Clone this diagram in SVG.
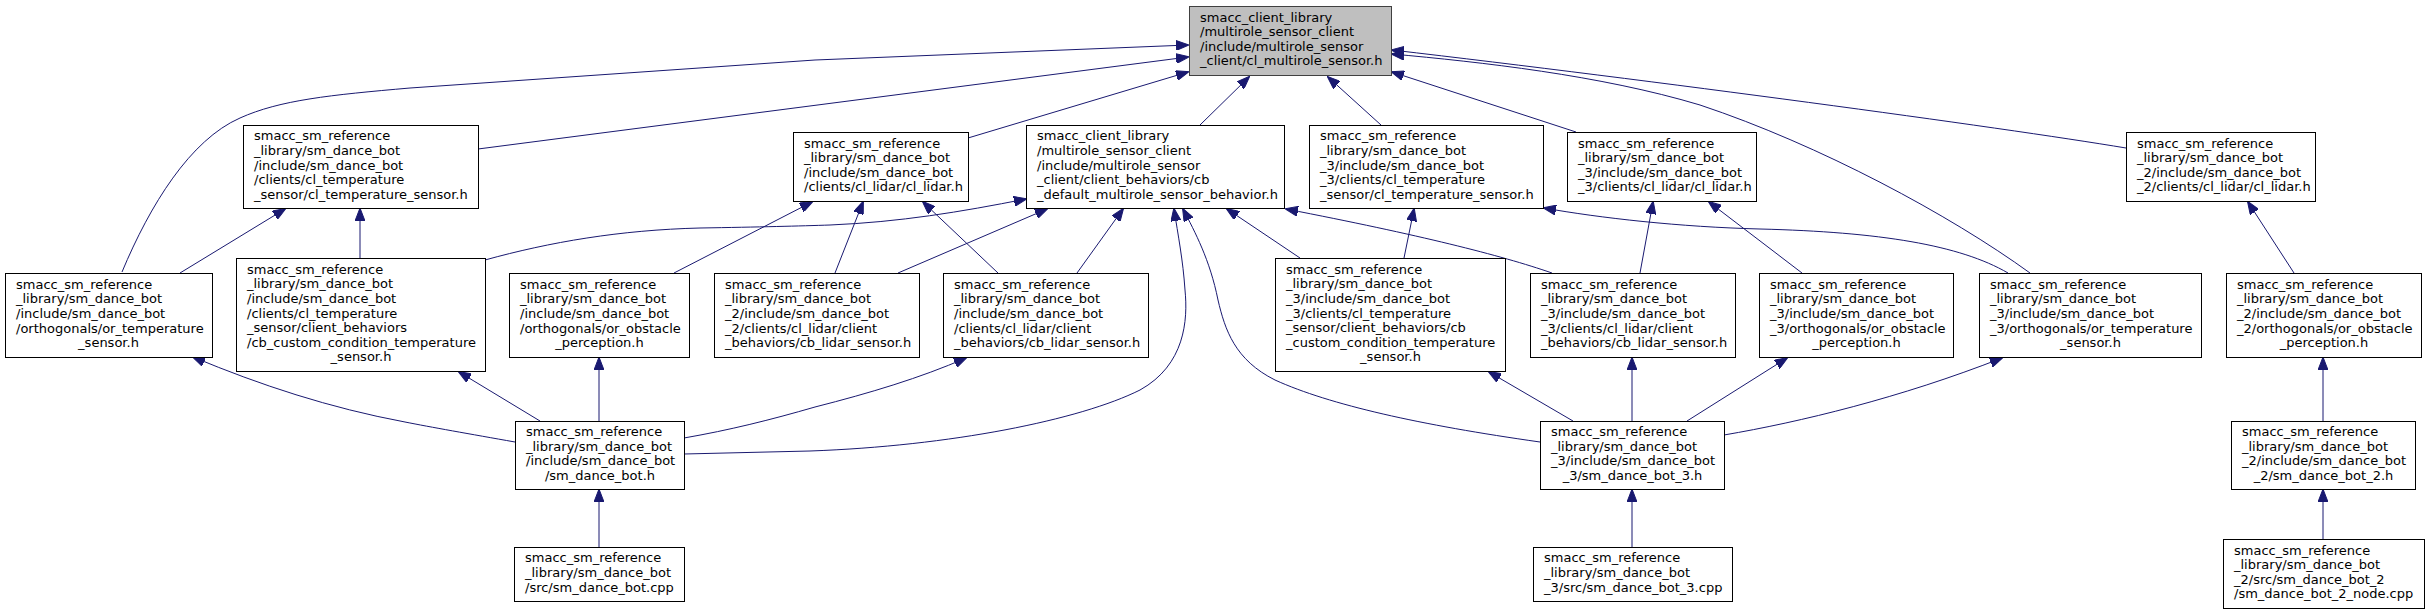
<svg xmlns="http://www.w3.org/2000/svg" width="2429" height="615" viewBox="0 0 2429 615">
<style>
.n rect{fill:#ffffff;stroke:#000000;stroke-width:1}
.n.g rect{stroke:#666666}
.n.root rect{fill:#bfbfbf;stroke:#404040}
text{font-family:"DejaVu Sans","Liberation Sans",sans-serif;font-size:13px;fill:#000000}
.c{text-anchor:middle}
#edges path{fill:none;stroke:#191970;stroke-width:1;marker-end:url(#ah)}
</style>
<defs>
<marker id="ah" markerUnits="userSpaceOnUse" viewBox="0 0 13 10" refX="12" refY="5" markerWidth="13" markerHeight="10" orient="auto">
<path d="M0,0 L13,5 L0,10 z" fill="#191970" stroke="#191970" stroke-width="1"/>
</marker>
</defs>
<rect width="2429" height="615" fill="#ffffff"/>
<g id="edges">
<path d="M122,272 C150,205 190,140 240,118 C280,100 330,95 410,88 L815,60 L1188,45"/>
<path d="M478,149 L1188,57"/>
<path d="M968,138 L1188,72"/>
<path d="M1200,125 L1249,77"/>
<path d="M1381,125 L1328,77"/>
<path d="M1576,132 L1392,72"/>
<path d="M2126,148 C2000,127 1650,80 1392,50"/>
<path d="M2030,273 C1950,215 1820,145 1700,105 C1600,75 1480,62 1392,54"/>
<path d="M180,273 L285,209"/>
<path d="M360,258 L360,209"/>
<path d="M674,273 L812,202"/>
<path d="M835,273 L863,202"/>
<path d="M998,273 L923,202"/>
<path d="M485,260 C550,242 620,230 700,228 C760,227 800,226 830,225 C900,222 960,212 1026,199"/>
<path d="M898,273 L1047,209"/>
<path d="M1077,273 L1123,209"/>
<path d="M684,454 L810,451 C950,446 1080,420 1140,390 C1185,365 1188,320 1185,290 C1183,260 1178,235 1174,209"/>
<path d="M1540,442 C1420,425 1330,405 1275,380 C1235,360 1225,330 1218,300 C1210,260 1195,232 1183,209"/>
<path d="M1300,258 L1227,209"/>
<path d="M1552,273 C1500,255 1420,235 1286,209"/>
<path d="M1404,258 L1414,209"/>
<path d="M2008,273 C1960,245 1880,232 1760,229 C1680,227 1600,218 1544,208"/>
<path d="M1640,273 L1653,202"/>
<path d="M1802,273 L1709,202"/>
<path d="M2294,273 L2248,202"/>
<path d="M515,442 C470,434 430,427 405,422 C330,408 260,385 193,357"/>
<path d="M540,421 L459,372"/>
<path d="M599,421 L599,358"/>
<path d="M684,438 C730,430 770,420 815,407 C870,393 920,378 966,358"/>
<path d="M599,547 L599,490"/>
<path d="M1573,421 L1489,372"/>
<path d="M1632,421 L1632,358"/>
<path d="M1687,421 L1787,358"/>
<path d="M1724,435 C1800,422 1900,398 2002,358"/>
<path d="M1632,547 L1632,490"/>
<path d="M2323,421 L2323,358"/>
<path d="M2323,539 L2323,490"/>
</g>
<g id="root" class="n root"><rect x="1189.5" y="6.5" width="202" height="69"/><text><tspan x="1200" y="21.6">smacc_client_library</tspan><tspan x="1200" y="36.2">/multirole_sensor_client</tspan><tspan x="1200" y="50.8">/include/multirole_sensor</tspan><tspan x="1200" y="65.4">_client/cl_multirole_sensor.h</tspan></text></g>
<g id="nodeA" class="n"><rect x="243.5" y="125.5" width="235" height="83"/><text><tspan x="254" y="140.3">smacc_sm_reference</tspan><tspan x="254" y="154.9">_library/sm_dance_bot</tspan><tspan x="254" y="169.5">/include/sm_dance_bot</tspan><tspan x="254" y="184.1">/clients/cl_temperature</tspan><tspan x="254" y="198.7">_sensor/cl_temperature_sensor.h</tspan></text></g>
<g id="nodeB" class="n"><rect x="793.5" y="132.5" width="175" height="69"/><text><tspan x="804" y="147.6">smacc_sm_reference</tspan><tspan x="804" y="162.2">_library/sm_dance_bot</tspan><tspan x="804" y="176.8">/include/sm_dance_bot</tspan><tspan x="804" y="191.4">/clients/cl_lidar/cl_lidar.h</tspan></text></g>
<g id="nodeC" class="n"><rect x="1026.5" y="125.5" width="258" height="83"/><text><tspan x="1037" y="140.3">smacc_client_library</tspan><tspan x="1037" y="154.9">/multirole_sensor_client</tspan><tspan x="1037" y="169.5">/include/multirole_sensor</tspan><tspan x="1037" y="184.1">_client/client_behaviors/cb</tspan><tspan x="1037" y="198.7">_default_multirole_sensor_behavior.h</tspan></text></g>
<g id="nodeD" class="n"><rect x="1309.5" y="125.5" width="234" height="83"/><text><tspan x="1320" y="140.3">smacc_sm_reference</tspan><tspan x="1320" y="154.9">_library/sm_dance_bot</tspan><tspan x="1320" y="169.5">_3/include/sm_dance_bot</tspan><tspan x="1320" y="184.1">_3/clients/cl_temperature</tspan><tspan x="1320" y="198.7">_sensor/cl_temperature_sensor.h</tspan></text></g>
<g id="nodeE" class="n"><rect x="1567.5" y="132.5" width="189" height="69"/><text><tspan x="1578" y="147.6">smacc_sm_reference</tspan><tspan x="1578" y="162.2">_library/sm_dance_bot</tspan><tspan x="1578" y="176.8">_3/include/sm_dance_bot</tspan><tspan x="1578" y="191.4">_3/clients/cl_lidar/cl_lidar.h</tspan></text></g>
<g id="nodeF" class="n"><rect x="2126.5" y="132.5" width="189" height="69"/><text><tspan x="2137" y="147.6">smacc_sm_reference</tspan><tspan x="2137" y="162.2">_library/sm_dance_bot</tspan><tspan x="2137" y="176.8">_2/include/sm_dance_bot</tspan><tspan x="2137" y="191.4">_2/clients/cl_lidar/cl_lidar.h</tspan></text></g>
<g id="nodeG" class="n"><rect x="5.5" y="273.5" width="207" height="84"/><text><tspan x="16" y="288.8">smacc_sm_reference</tspan><tspan x="16" y="303.4">_library/sm_dance_bot</tspan><tspan x="16" y="318">/include/sm_dance_bot</tspan><tspan x="16" y="332.6">/orthogonals/or_temperature</tspan><tspan class="c" x="108.5" y="347.2">_sensor.h</tspan></text></g>
<g id="nodeH" class="n"><rect x="236.5" y="258.5" width="249" height="113"/><text><tspan x="247" y="273.7">smacc_sm_reference</tspan><tspan x="247" y="288.3">_library/sm_dance_bot</tspan><tspan x="247" y="302.9">/include/sm_dance_bot</tspan><tspan x="247" y="317.5">/clients/cl_temperature</tspan><tspan x="247" y="332.1">_sensor/client_behaviors</tspan><tspan x="247" y="346.7">/cb_custom_condition_temperature</tspan><tspan class="c" x="361" y="361.3">_sensor.h</tspan></text></g>
<g id="nodeI" class="n"><rect x="509.5" y="273.5" width="180" height="84"/><text><tspan x="520" y="288.8">smacc_sm_reference</tspan><tspan x="520" y="303.4">_library/sm_dance_bot</tspan><tspan x="520" y="318">/include/sm_dance_bot</tspan><tspan x="520" y="332.6">/orthogonals/or_obstacle</tspan><tspan class="c" x="599.5" y="347.2">_perception.h</tspan></text></g>
<g id="nodeJ" class="n"><rect x="714.5" y="273.5" width="205" height="84"/><text><tspan x="725" y="288.8">smacc_sm_reference</tspan><tspan x="725" y="303.4">_library/sm_dance_bot</tspan><tspan x="725" y="318">_2/include/sm_dance_bot</tspan><tspan x="725" y="332.6">_2/clients/cl_lidar/client</tspan><tspan x="725" y="347.2">_behaviors/cb_lidar_sensor.h</tspan></text></g>
<g id="nodeK" class="n"><rect x="943.5" y="273.5" width="205" height="84"/><text><tspan x="954" y="288.8">smacc_sm_reference</tspan><tspan x="954" y="303.4">_library/sm_dance_bot</tspan><tspan x="954" y="318">/include/sm_dance_bot</tspan><tspan x="954" y="332.6">/clients/cl_lidar/client</tspan><tspan x="954" y="347.2">_behaviors/cb_lidar_sensor.h</tspan></text></g>
<g id="nodeL" class="n"><rect x="1275.5" y="258.5" width="230" height="113"/><text><tspan x="1286" y="273.7">smacc_sm_reference</tspan><tspan x="1286" y="288.3">_library/sm_dance_bot</tspan><tspan x="1286" y="302.9">_3/include/sm_dance_bot</tspan><tspan x="1286" y="317.5">_3/clients/cl_temperature</tspan><tspan x="1286" y="332.1">_sensor/client_behaviors/cb</tspan><tspan x="1286" y="346.7">_custom_condition_temperature</tspan><tspan class="c" x="1390.5" y="361.3">_sensor.h</tspan></text></g>
<g id="nodeM" class="n"><rect x="1530.5" y="273.5" width="205" height="84"/><text><tspan x="1541" y="288.8">smacc_sm_reference</tspan><tspan x="1541" y="303.4">_library/sm_dance_bot</tspan><tspan x="1541" y="318">_3/include/sm_dance_bot</tspan><tspan x="1541" y="332.6">_3/clients/cl_lidar/client</tspan><tspan x="1541" y="347.2">_behaviors/cb_lidar_sensor.h</tspan></text></g>
<g id="nodeN" class="n"><rect x="1759.5" y="273.5" width="194" height="84"/><text><tspan x="1770" y="288.8">smacc_sm_reference</tspan><tspan x="1770" y="303.4">_library/sm_dance_bot</tspan><tspan x="1770" y="318">_3/include/sm_dance_bot</tspan><tspan x="1770" y="332.6">_3/orthogonals/or_obstacle</tspan><tspan class="c" x="1856.5" y="347.2">_perception.h</tspan></text></g>
<g id="nodeO" class="n"><rect x="1979.5" y="273.5" width="222" height="84"/><text><tspan x="1990" y="288.8">smacc_sm_reference</tspan><tspan x="1990" y="303.4">_library/sm_dance_bot</tspan><tspan x="1990" y="318">_3/include/sm_dance_bot</tspan><tspan x="1990" y="332.6">_3/orthogonals/or_temperature</tspan><tspan class="c" x="2090.5" y="347.2">_sensor.h</tspan></text></g>
<g id="nodeP" class="n"><rect x="2226.5" y="273.5" width="195" height="84"/><text><tspan x="2237" y="288.8">smacc_sm_reference</tspan><tspan x="2237" y="303.4">_library/sm_dance_bot</tspan><tspan x="2237" y="318">_2/include/sm_dance_bot</tspan><tspan x="2237" y="332.6">_2/orthogonals/or_obstacle</tspan><tspan class="c" x="2324" y="347.2">_perception.h</tspan></text></g>
<g id="nodeQ" class="n"><rect x="515.5" y="421.5" width="169" height="68"/><text><tspan x="526" y="436.1">smacc_sm_reference</tspan><tspan x="526" y="450.7">_library/sm_dance_bot</tspan><tspan x="526" y="465.3">/include/sm_dance_bot</tspan><tspan class="c" x="600" y="479.9">/sm_dance_bot.h</tspan></text></g>
<g id="nodeR" class="n"><rect x="1540.5" y="421.5" width="184" height="68"/><text><tspan x="1551" y="436.1">smacc_sm_reference</tspan><tspan x="1551" y="450.7">_library/sm_dance_bot</tspan><tspan x="1551" y="465.3">_3/include/sm_dance_bot</tspan><tspan class="c" x="1632.5" y="479.9">_3/sm_dance_bot_3.h</tspan></text></g>
<g id="nodeS" class="n"><rect x="2231.5" y="421.5" width="184" height="68"/><text><tspan x="2242" y="436.1">smacc_sm_reference</tspan><tspan x="2242" y="450.7">_library/sm_dance_bot</tspan><tspan x="2242" y="465.3">_2/include/sm_dance_bot</tspan><tspan class="c" x="2323.5" y="479.9">_2/sm_dance_bot_2.h</tspan></text></g>
<g id="nodeT" class="n"><rect x="514.5" y="547.5" width="170" height="54"/><text><tspan x="525" y="562.4">smacc_sm_reference</tspan><tspan x="525" y="577">_library/sm_dance_bot</tspan><tspan x="525" y="591.6">/src/sm_dance_bot.cpp</tspan></text></g>
<g id="nodeU" class="n"><rect x="1533.5" y="547.5" width="199" height="54"/><text><tspan x="1544" y="562.4">smacc_sm_reference</tspan><tspan x="1544" y="577">_library/sm_dance_bot</tspan><tspan x="1544" y="591.6">_3/src/sm_dance_bot_3.cpp</tspan></text></g>
<g id="nodeV" class="n"><rect x="2223.5" y="539.5" width="201" height="69"/><text><tspan x="2234" y="554.6">smacc_sm_reference</tspan><tspan x="2234" y="569.2">_library/sm_dance_bot</tspan><tspan x="2234" y="583.8">_2/src/sm_dance_bot_2</tspan><tspan x="2234" y="598.4">/sm_dance_bot_2_node.cpp</tspan></text></g>
</svg>
